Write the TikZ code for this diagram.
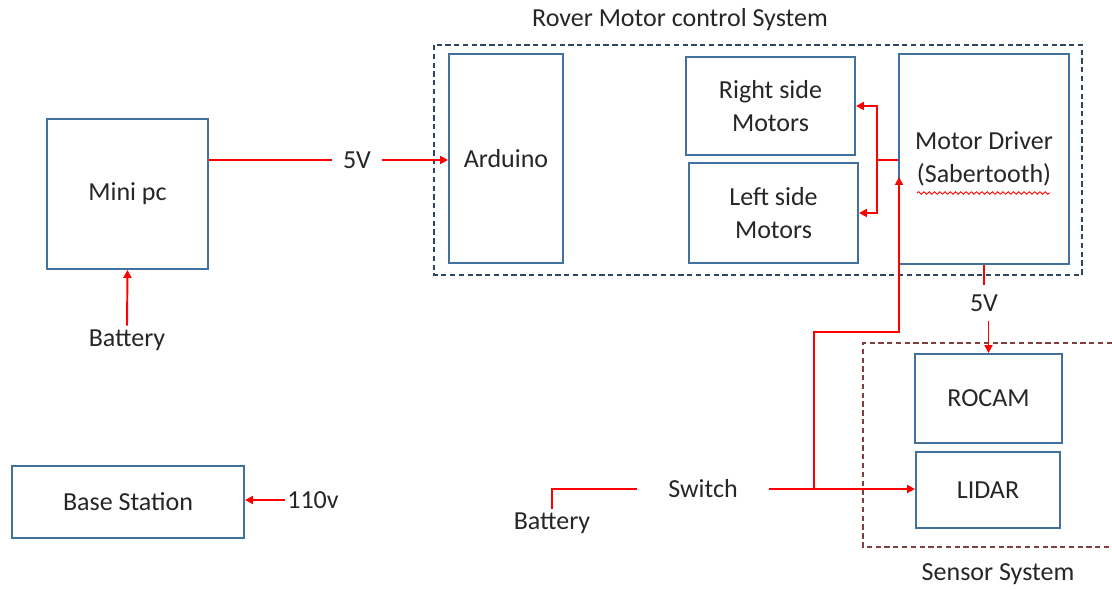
\documentclass[tikz,border=0pt]{standalone}
\usepackage{fontspec}
\setmainfont{Carlito}
\usetikzlibrary{arrows.meta,decorations.pathmorphing}
\definecolor{boxblue}{HTML}{41719C}
\definecolor{roverline}{HTML}{2F4660}
\definecolor{sensorline}{HTML}{7F3F3F}
\definecolor{wirered}{HTML}{FF0000}
\begin{document}
\begin{tikzpicture}[x=0.02cm,y=-0.02cm,
  every node/.style={font=\fontsize{14.8}{18.6}\selectfont, text=black!85},
  blk/.style={draw=boxblue, line width=1.1pt, align=center, inner sep=0pt},
  lbl/.style={inner ysep=2pt, inner xsep=1pt},
  wire/.style={draw=wirered, line width=1.1pt},
  tip/.style={-{Triangle[length=4.5pt,width=4.5pt]}},
  roverbox/.style={draw=roverline, line width=1pt, dash pattern=on 3pt off 2pt},
  sensorbox/.style={draw=sensorline, line width=1pt, dash pattern=on 3pt off 2pt}]
\useasboundingbox (0,0) rectangle (1112,590);

% group frames
\draw[roverbox] (434,45) rectangle (1082,275);
\draw[sensorbox] (1112,343) -- (863,343) -- (863,547) -- (1112,547);
\node[lbl] (rovertitle) at (680,20) {Rover Motor control System};
\node[lbl] (sensortitle) at (998,574) {Sensor System};

% blocks
\node[blk, minimum width=3.22cm, minimum height=3.0cm] (minipc) at (127.5,194) {Mini pc};
\node[blk, minimum width=2.28cm, minimum height=4.18cm] (arduino) at (506,158.5) {Arduino};
\node[blk, minimum width=3.38cm, minimum height=1.96cm] (rmot) at (770.5,106) {Right side\\Motors};
\node[blk, minimum width=3.38cm, minimum height=2.0cm] (lmot) at (773.5,213) {Left side\\Motors};
\node[blk, minimum width=3.4cm, minimum height=4.2cm] (driver) at (984,159) {Motor Driver\\(Sabertooth)};
\node[blk, minimum width=2.94cm, minimum height=1.78cm] (rocam) at (988.5,398.5) {ROCAM};
\node[blk, minimum width=2.88cm, minimum height=1.52cm] (lidar) at (988,490) {LIDAR};
\node[blk, minimum width=4.64cm, minimum height=1.44cm] (base) at (128,502) {Base Station};

% spell-check underline
\draw[wirered, line width=0.5pt, decorate, decoration={snake,segment length=3pt,amplitude=0.7pt}] (917,193) -- (1050,193);

% labels
\node[lbl, inner xsep=6pt] (v5a) at (357,160) {5V};
\node[lbl] (bat1) at (127,340) {Battery};
\node[lbl, inner ysep=5pt] (v5b) at (984,303) {5V};
\node[lbl, inner xsep=17.5pt] (sw) at (703,489) {Switch};
\node[lbl] (bat2) at (552,523) {Battery};
\node[lbl] (v110) at (313,500) {110v};

% connectors
\draw[wire] (minipc.east |- v5a) -- (v5a.west);
\draw[wire,tip] (v5a.east) -- (arduino.west |- v5a);
\draw[wire,tip] (bat1.north) -- (minipc.south);

\coordinate (split) at (877,160);
\draw[wire] (driver.west |- split) -- (split);
\draw[wire,tip] (split) |- (rmot.east);
\draw[wire,tip] (split) |- (lmot.east);

\draw[wire] (driver.south) -- (v5b.north -| driver.south);
\draw[wire,tip] (v5b.south -| rocam.north) -- (rocam.north);

\draw[wire] (bat2.north) |- (sw.west);
\draw[wire,tip] (sw.east) -- (sw.east -| lidar.west);
\coordinate (j) at (814,489);
\coordinate (bend) at (899,332);
\coordinate (jin) at (899,177);
\draw[wire,tip] (j) |- (bend) -- (jin);

\draw[wire,tip] (v110.west) -- (base.east |- v110);
\end{tikzpicture}
\end{document}
